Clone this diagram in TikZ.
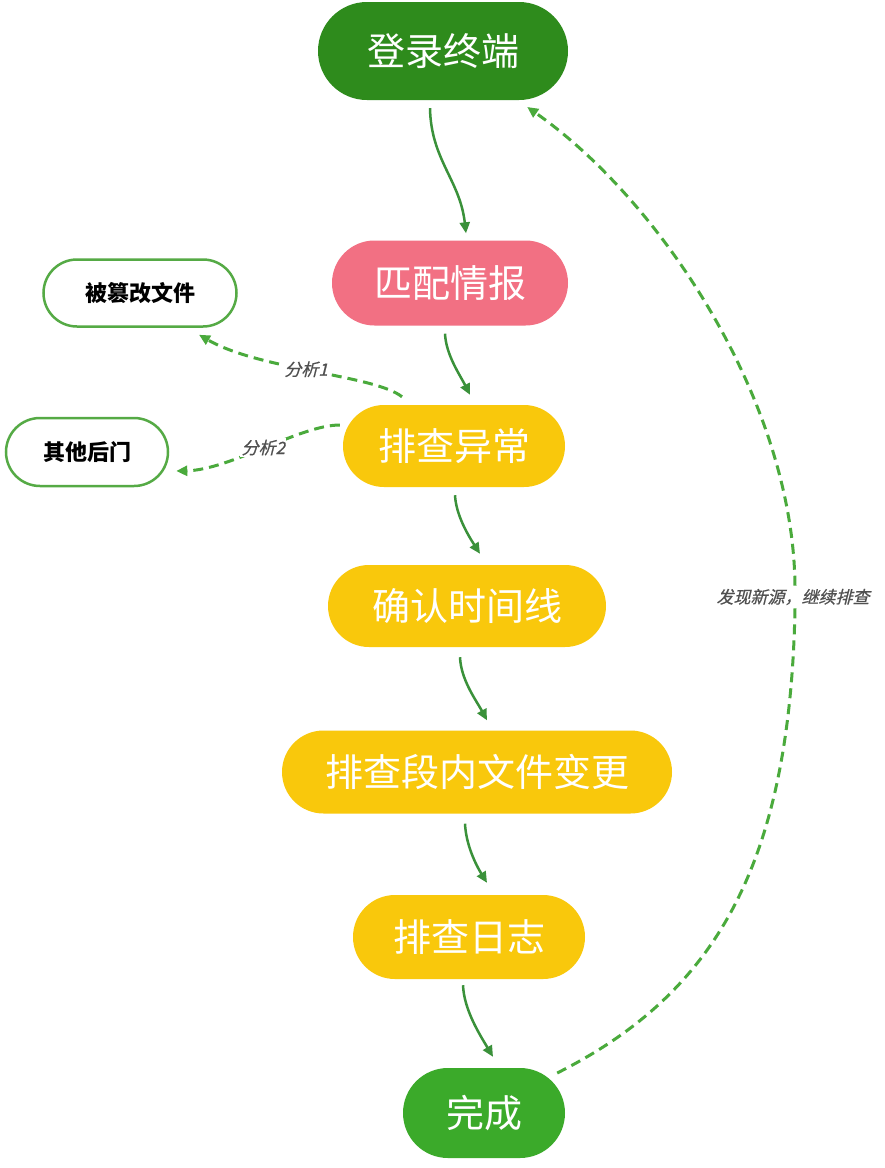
\documentclass[tikz,border=0pt]{standalone}
\usepackage{fontspec}
\newfontfamily\cjk{Noto Sans CJK SC}
\newfontfamily\cjkit[FakeSlant=0.25,FakeBold=0.6]{Noto Sans CJK SC}
\usetikzlibrary{shapes.misc,arrows.meta,calc}
\definecolor{dgreen}{HTML}{2E8B1C}
\definecolor{lgreen}{HTML}{3BAA2A}
\definecolor{pinkc}{HTML}{F27083}
\definecolor{yellowc}{HTML}{F9C80C}
\definecolor{sgreen}{HTML}{55AA45}
\definecolor{agreen}{HTML}{3A913A}
\definecolor{dagreen}{HTML}{4AAA3C}
\definecolor{lblgray}{HTML}{505050}
\begin{document}
\begin{tikzpicture}[x=1pt,y=-1pt,
  mainbox/.style={rounded rectangle, inner sep=0pt, text=white,
    font=\cjk\fontsize{38}{40}\selectfont},
  sidebox/.style={rounded rectangle, draw=sgreen, line width=2.5pt, fill=white,
    inner sep=0pt, text=black, font=\cjk\bfseries\fontsize{22}{24}\selectfont},
  flow/.style={draw=agreen, line width=2.5pt, -{Triangle[length=11pt,width=10pt]}},
  dflow/.style={draw=dagreen, line width=3pt, dash pattern=on 10pt off 6pt,
    -{Triangle[length=11pt,width=10pt]}},
  dline/.style={draw=dagreen, line width=3pt, dash pattern=on 10pt off 6pt},
  lbl/.style={font=\cjkit\fontsize{17}{19}\selectfont, text=lblgray, fill=white, inner sep=1.5pt}]
\useasboundingbox[fill=white] (0,0) rectangle (885,1168);

\node[mainbox, fill=dgreen, minimum width=250pt, minimum height=98pt] (login) at (443,51) {登录终端};
\node[mainbox, fill=pinkc, minimum width=236pt, minimum height=85pt] (match) at (450,283) {匹配情报};
\node[mainbox, fill=yellowc, minimum width=222pt, minimum height=82pt] (anom) at (454,446) {排查异常};
\node[mainbox, fill=yellowc, minimum width=278pt, minimum height=82pt] (time) at (467,606) {确认时间线};
\node[mainbox, fill=yellowc, minimum width=390pt, minimum height=83pt] (fchg) at (477,772) {排查段内文件变更};
\node[mainbox, fill=yellowc, minimum width=232pt, minimum height=84pt] (logs) at (469,937) {排查日志};
\node[mainbox, fill=lgreen, minimum width=162pt, minimum height=90pt] (done) at (484,1113) {完成};

\node[sidebox, minimum width=193pt, minimum height=67pt] (tamper) at (140,293) {被篡改文件};
\node[sidebox, minimum width=162pt, minimum height=68pt] (backdoor) at (87,452) {其他后门};

% solid flow arrows
\draw[flow] ($(login.south)+(-13,8)$) .. controls (431,160) and (460,180) .. ($(match.north)+(16,-7)$);
\draw[flow] ($(match.south)+(-5,8)$) .. controls (446,355) and (460,375) .. ($(anom.north)+(16,-10)$);
\draw[flow] ($(anom.south)+(1,8)$) .. controls (456,515) and (468,535) .. ($(time.north)+(13,-11)$);
\draw[flow] ($(time.south)+(-7,10)$) .. controls (461,680) and (476,700) .. ($(fchg.north)+(10,-10)$);
\draw[flow] ($(fchg.south)+(-12,10)$) .. controls (466,845) and (476,865) .. ($(logs.north)+(18,-12)$);
\draw[flow] ($(logs.south)+(-6,6)$) .. controls (464,1010) and (480,1035) .. ($(done.north)+(9,-11)$);

% dashed analysis arrows
\draw[dflow] ($(anom.north)+(-52,-8)$) .. controls (375,375) and (260,370) ..
  node[lbl, pos=0.53] (l1) {分析1} ($(tamper.south)+(59,7)$);
\draw[dflow] ($(anom.west)+(-3,-21)$) .. controls (300,425) and (230,470) ..
  node[lbl, pos=0.5] (l2) {分析2} ($(backdoor.east)+(7,19)$);

% loop back arc
\node[lbl, fill=none, inner sep=3pt] (again) at (793,597) {发现新源，继续排查};
\draw[dline] ($(done.east)+(-8,-40)$) .. controls (712,995) and (790,870) .. ($(again.south)+(2,0)$);
\draw[dflow] ($(again.north)+(2,0)$) .. controls (793,400) and (660,200) .. ($(login.east)+(-41,56)$);
\end{tikzpicture}
\end{document}
